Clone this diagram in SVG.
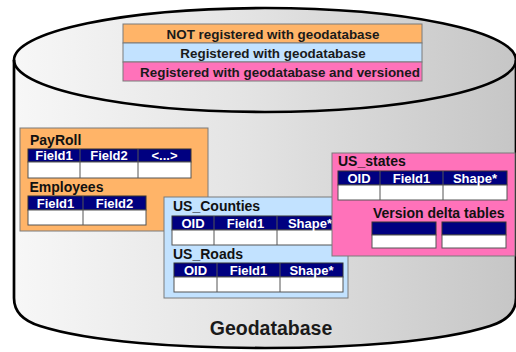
<svg xmlns="http://www.w3.org/2000/svg" width="516" height="352" viewBox="0 0 516 352">
  <defs>
    <linearGradient id="cylFill" x1="0" y1="0" x2="1" y2="0">
      <stop offset="0" stop-color="#f7f7f7"/>
      <stop offset="0.45" stop-color="#e4e4e4"/>
      <stop offset="1" stop-color="#c6c6c6"/>
    </linearGradient>
    <style>
      text { font-family: "Liberation Sans", Arial, sans-serif; font-weight: bold; }
      .legend { font-size: 13.4px; fill: #1a1a1a; text-anchor: middle; }
      .title { font-size: 14px; fill: #111; }
      .hdr-txt { font-size: 13px; fill: #ffffff; text-anchor: middle; }
      .big { font-size: 19.5px; fill: #1a1a1a; text-anchor: middle; }
      .orange { fill: #ffb468; }
      .blue { fill: #c2e2ff; }
      .pink { fill: #ff72ba; }
      .box { stroke: #7a7a7a; stroke-width: 1; }
      .hdr { fill: #000080; stroke: #333; stroke-width: 1; }
      .row { fill: #ffffff; stroke: #555; stroke-width: 1; }
      .div { stroke: #555; stroke-width: 1; }
      .cyl { stroke: #000; stroke-width: 2.7; fill: none; }
    </style>
  </defs>

  <!-- Database cylinder -->
  <g id="cylinder">
    <path d="M14,60 A251,52 0 0 1 516,60 L516,298 Q516,318 490,326 C440,342 350,348 265,348 C180,348 90,342 40,326 Q14,318 14,298 Z" fill="url(#cylFill)"/>
    <path class="cyl" d="M14,60 L14,298 Q14,318 40,326 C90,342 180,348 265,348 C350,348 440,342 490,326 Q516,318 516,298 L516,60"/>
    <ellipse class="cyl" cx="265" cy="60" rx="251" ry="52"/>
  </g>

  <!-- Colour key -->
  <g id="legend">
    <rect class="orange box" x="123" y="24" width="299" height="19"/>
    <rect class="blue box" x="123" y="43" width="299" height="19"/>
    <rect class="pink box" x="123" y="62" width="299" height="19"/>
    <text class="legend" x="273" y="38.5">NOT registered with geodatabase</text>
    <text class="legend" x="273" y="57.5">Registered with geodatabase</text>
    <text class="legend" x="280" y="76.5">Registered with geodatabase and versioned</text>
  </g>

  <g id="connectors"/>

  <!-- Unregistered tables -->
  <g id="payroll-group">
    <rect class="orange box" x="20" y="128" width="188" height="103"/>
    <g id="payroll">
      <text class="title" x="30" y="145">PayRoll</text>
      <rect class="hdr" x="28" y="149" width="163" height="13"/>
      <rect class="row" x="28" y="162" width="163" height="16"/>
      <path class="div" d="M80,149 V178 M138,149 V178"/>
      <text class="hdr-txt" x="54" y="160">Field1</text>
      <text class="hdr-txt" x="109" y="160">Field2</text>
      <text class="hdr-txt" x="164.5" y="160">&lt;...&gt;</text>
    </g>
    <g id="employees">
      <text class="title" x="29.5" y="192">Employees</text>
      <rect class="hdr" x="28" y="196" width="118" height="14"/>
      <rect class="row" x="28" y="210" width="118" height="15"/>
      <path class="div" d="M83,196 V225"/>
      <text class="hdr-txt" x="55.5" y="207.5">Field1</text>
      <text class="hdr-txt" x="114.5" y="207.5">Field2</text>
    </g>
  </g>

  <!-- Registered feature classes -->
  <g id="registered-group">
    <rect class="blue box" x="164" y="197" width="184" height="101"/>
    <g id="us-counties">
      <text class="title" x="173" y="211">US_Counties</text>
      <rect class="hdr" x="172" y="216" width="168" height="14"/>
      <rect class="row" x="172" y="230" width="168" height="15"/>
      <path class="div" d="M214,216 V245 M277,216 V245"/>
      <text class="hdr-txt" x="193" y="227.5">OID</text>
      <text class="hdr-txt" x="245.5" y="227.5">Field1</text>
      <text class="hdr-txt" x="310" y="227.5">Shape*</text>
    </g>
    <g id="us-roads">
      <text class="title" x="173" y="259">US_Roads</text>
      <rect class="hdr" x="174" y="263" width="169" height="14"/>
      <rect class="row" x="174" y="277" width="169" height="15"/>
      <path class="div" d="M217,263 V292 M280,263 V292"/>
      <text class="hdr-txt" x="195.5" y="274.5">OID</text>
      <text class="hdr-txt" x="248.5" y="274.5">Field1</text>
      <text class="hdr-txt" x="311.5" y="274.5">Shape*</text>
    </g>
  </g>

  <!-- Versioned feature class with delta tables -->
  <g id="versioned-group">
    <rect class="pink box" x="332" y="153" width="183" height="103"/>
    <g id="us-states">
      <text class="title" x="338" y="166">US_states</text>
      <rect class="hdr" x="338" y="171" width="169" height="14"/>
      <rect class="row" x="338" y="185" width="169" height="15"/>
      <path class="div" d="M380,171 V200 M443,171 V200"/>
      <text class="hdr-txt" x="359" y="182.5">OID</text>
      <text class="hdr-txt" x="411.5" y="182.5">Field1</text>
      <text class="hdr-txt" x="475" y="182.5">Shape*</text>
    </g>
    <g id="delta-tables">
      <text class="title" x="373" y="218">Version delta tables</text>
      <rect class="hdr" x="372" y="222" width="64" height="13"/>
      <rect class="row" x="372" y="235" width="64" height="13"/>
      <rect class="hdr" x="442" y="222" width="64" height="13"/>
      <rect class="row" x="442" y="235" width="64" height="13"/>
    </g>
  </g>

  <text id="geodatabase-label" class="big" x="271" y="335">Geodatabase</text>
</svg>
